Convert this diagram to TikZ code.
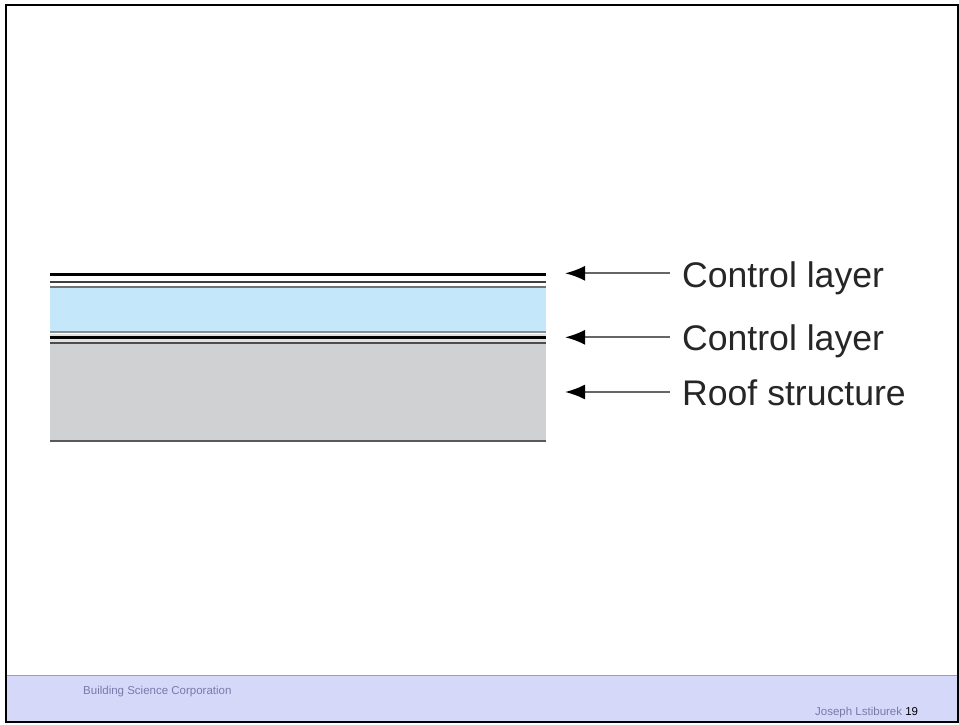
\documentclass[tikz,border=0pt]{standalone}
\usepackage{fontspec}
\setmainfont{Liberation Sans}
\usetikzlibrary{arrows.meta}
\definecolor{footbg}{HTML}{D6D8FA}
\definecolor{footline}{HTML}{9A9CC8}
\definecolor{foottext}{HTML}{7A7AA8}
\definecolor{insblue}{HTML}{C4E8FA}
\definecolor{roofgray}{HTML}{D0D1D3}
\tikzset{
  lbl/.style={anchor=base west, inner sep=0pt, font=\fontsize{35.6}{40}\selectfont, text=black!85},
  arr/.style={draw=black!60, line width=2pt, -{Latex[length=20pt,width=15pt,black]}},
  blk/.style={draw=black, line width=2.6pt},
  gry/.style={draw=black!55, line width=1.8pt},
  foot/.style={inner sep=0pt, anchor=base west, font=\fontsize{11.5}{13}\selectfont, text=foottext}
}
\begin{document}
\begin{tikzpicture}[x=1pt,y=-1pt]
\useasboundingbox (0,0) rectangle (959,725);
% footer band
\fill[footbg] (6,675) rectangle (958,722);
\draw[footline, line width=1pt] (6,675) -- (958,675);
% frame
\draw[black, line width=2pt] (6,5) rectangle (958,722);
% layers
\fill[insblue] (50,287) rectangle (546,331);
\fill[black!12] (50,334) rectangle (546,343);
\fill[roofgray] (50,343) rectangle (546,441);
\draw[blk] (50,274.5) -- (546,274.5);
\draw[draw=black!75, line width=1.8pt] (50,282) -- (546,282);
\draw[gry] (50,287) -- (546,287);
\draw[draw=black!45, line width=2.6pt] (50,332) -- (546,332);
\draw[blk] (50,337.3) -- (546,337.3);
\draw[draw=black!70, line width=1.8pt] (50,343.3) -- (546,343.3);
\draw[draw=black!65, line width=2.2pt] (50,440.7) -- (546,440.7);
% labels
\node[lbl] (l1) at (682,287) {Control layer};
\node[lbl] (l2) at (682,350) {Control layer};
\node[lbl] (l3) at (682,405) {Roof structure};
\coordinate (t1) at (565,273.3);
\coordinate (t2) at (565,337.3);
\coordinate (t3) at (565,392);
\draw[arr] ([shift={(-12pt,13.7pt)}]l1.base west) -- (t1);
\draw[arr] ([shift={(-12pt,12.7pt)}]l2.base west) -- (t2);
\draw[arr] ([shift={(-12pt,13pt)}]l3.base west) -- (t3);
% footer texts
\node[foot] (f1) at (83,694) {Building Science Corporation};
\node[foot] (f2) at (815,715) {Joseph Lstiburek \textcolor{black}{19}};
\end{tikzpicture}
\end{document}
